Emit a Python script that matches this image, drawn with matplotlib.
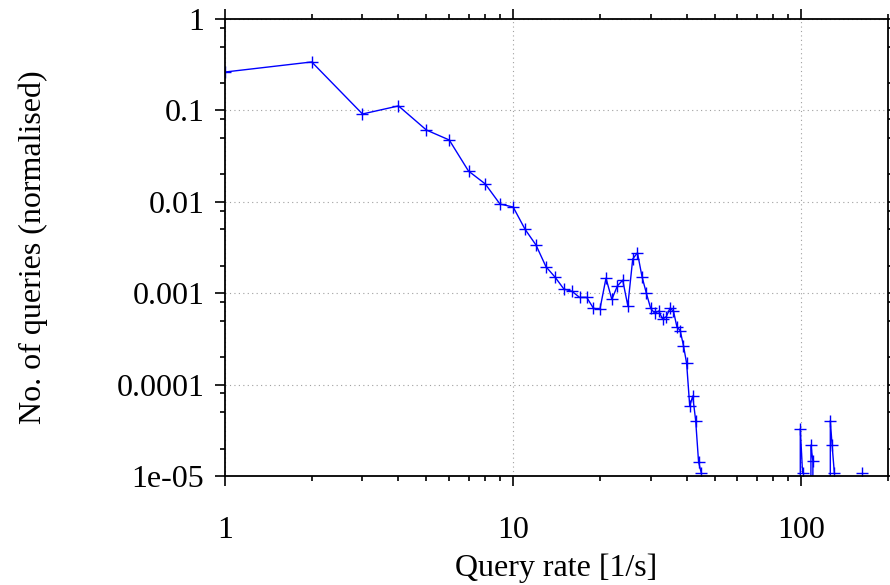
import numpy as np
import matplotlib
matplotlib.use("Agg")
import matplotlib.pyplot as plt
from matplotlib.ticker import LogLocator, FixedLocator, FixedFormatter, NullFormatter

# query rate histogram (normalised)
rate = [1, 2, 3, 4, 5, 6, 7, 8, 9, 10,
        11, 12, 13, 14, 15, 16, 17, 18, 19, 20,
        21, 22, 23, 24, 25, 26, 27, 28, 29, 30,
        31, 32, 33, 34, 35, 36, 37, 38, 39, 40,
        41, 42, 43, 44, 45]
fraction = [0.263, 0.339, 0.0914, 0.112, 0.061, 0.0475, 0.0217, 0.0157, 0.00946, 0.00877,
            0.0050, 0.00337, 0.00195, 0.00149, 0.00111, 0.00105, 0.00090, 0.00090, 0.000684, 0.000667,
            0.00146, 0.000857, 0.0012, 0.00139, 0.00073, 0.00237, 0.00277, 0.00152, 0.000997, 0.000684,
            0.000603, 0.000638, 0.000522, 0.000553, 0.000684, 0.000638, 0.00043, 0.000389, 0.000267, 0.000171,
            5.83e-5, 7.5e-5, 4.03e-5, 1.43e-5, 1.07e-5]

# sparse tail: zeros drop to the axis, nan breaks the line
tail_rate = [np.nan, 98.8, 99.2, 101, np.nan, 107.7, 108, 109.7, 110, np.nan,
             125.8, 126.1, 127.9, 130.2, np.nan, 162.5]
tail_fraction = [np.nan, 0, 3.3e-5, 1.09e-5, np.nan, 0, 2.18e-5, 1.46e-5, 0, np.nan,
                 0, 4.03e-5, 2.18e-5, 1.09e-5, np.nan, 1.09e-5]

ytick_vals = [1, 0.1, 0.01, 0.001, 0.0001, 1e-05]
ytick_labels = ["1", "0.1", "0.01", "0.001", "0.0001", "1e-05"]
xtick_vals = [1, 10, 100]
xtick_labels = ["1", "10", "100"]

plt.rcParams['font.family'] = ['Liberation Serif', 'DejaVu Serif']
plt.rcParams['font.size'] = 23

fig = plt.figure(figsize=(8.9, 5.85), dpi=100)
ax = fig.add_axes([0.2528, 0.1863, 0.7450, 0.7812])

x = rate + tail_rate
y = fraction + tail_fraction
ax.set_xscale('log')
ax.set_yscale('log', nonpositive='clip')
ax.plot(x, y, color='#0000ff', lw=1.0, marker='+', markersize=8, mew=1.0)

ax.set_xlim(1, 200)
ax.set_ylim(1e-5, 1)

ax.xaxis.set_major_locator(FixedLocator(xtick_vals))
ax.xaxis.set_major_formatter(FixedFormatter(xtick_labels))
ax.xaxis.set_minor_locator(LogLocator(base=10, subs=np.arange(2, 10)))
ax.xaxis.set_minor_formatter(NullFormatter())
ax.yaxis.set_major_locator(FixedLocator(ytick_vals))
ax.yaxis.set_major_formatter(FixedFormatter(ytick_labels))
ax.yaxis.set_minor_locator(LogLocator(base=10, subs=[2, 5, 8]))
ax.yaxis.set_minor_formatter(NullFormatter())

ax.tick_params(which='both', direction='out', top=True, right=True, width=1.2)
ax.tick_params(which='major', length=7, pad=8)
ax.tick_params(which='minor', length=3.5)
ax.tick_params(axis='x', which='major', pad=22)

for s in ax.spines.values():
    s.set_linewidth(1.3)

ax.grid(True, which='major', color='#a0a0a0', linestyle=(0, (1, 3)), linewidth=0.8)

ax.set_xlabel("Query rate [1/s]", labelpad=6)
ax.set_ylabel("No. of queries (normalised)", labelpad=49)

fig.savefig("out.png", dpi=100)
